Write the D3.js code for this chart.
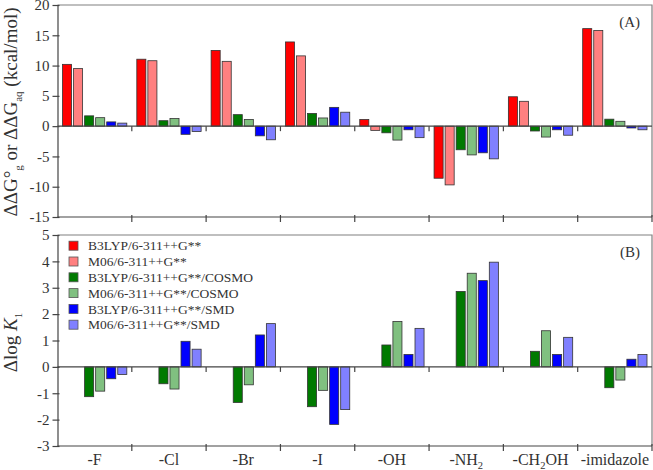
<!DOCTYPE html>
<html>
<head>
<meta charset="utf-8">
<script src="https://cdn.jsdelivr.net/npm/d3@7"></script>
<style>
  body { margin: 0; background: #fff; }
  svg { font-family: "Liberation Serif", "Times New Roman", serif; }
  .axis text { fill: #333; }
</style>
</head>
<body>
<svg id="chart"></svg>
<script>
"use strict";

// categories (substituents) and series
var categories = ["-F", "-Cl", "-Br", "-I", "-OH", "-NH2", "-CH2OH", "-imidazole"];
var seriesNames = [
  "B3LYP/6-311++G**",
  "M06/6-311++G**",
  "B3LYP/6-311++G**/COSMO",
  "M06/6-311++G**/COSMO",
  "B3LYP/6-311++G**/SMD",
  "M06/6-311++G**/SMD"
];
var seriesColors = ["#ff0000", "#ff8080", "#007a00", "#80c080", "#0000ff", "#8080ff"];

// panel (A): ddG (kcal/mol)
var dgB3lyp      = [10.2, 11.05, 12.5, 13.9, 1.1, -8.6, 4.85, 16.1];
var dgM06        = [9.5, 10.8, 10.7, 11.6, -0.7, -9.7, 4.1, 15.8];
var dgB3lypCosmo = [1.7, 0.9, 1.9, 2.1, -1.1, -3.9, -0.8, 1.15];
var dgM06Cosmo   = [1.4, 1.25, 1.1, 1.35, -2.3, -4.75, -1.8, 0.8];
var dgB3lypSmd   = [0.7, -1.35, -1.6, 3.1, -0.6, -4.4, -0.6, -0.3];
var dgM06Smd     = [0.5, -0.9, -2.25, 2.3, -1.9, -5.4, -1.5, -0.6];

// panel (B): dlog K1 (gas-phase series not shown)
var lkB3lypCosmo = [-1.13, -0.64, -1.35, -1.51, 0.83, 2.86, 0.59, -0.79];
var lkM06Cosmo   = [-0.92, -0.84, -0.68, -0.89, 1.72, 3.55, 1.37, -0.5];
var lkB3lypSmd   = [-0.45, 0.97, 1.21, -2.18, 0.47, 3.27, 0.47, 0.29];
var lkM06Smd     = [-0.29, 0.67, 1.64, -1.62, 1.46, 3.97, 1.12, 0.47];

var ticksA = [-15, -10, -5, 0, 5, 10, 15, 20];
var ticksB = [-3, -2, -1, 0, 1, 2, 3, 4, 5];

var width = 653, height = 470;
var left = 57.5, right = 652;

var svg = d3.select("#chart").attr("width", width).attr("height", height);

var x0 = d3.scaleBand().domain(categories).range([left, right]).padding(0);
var x1 = d3.scaleBand().domain(seriesNames).range([5, x0.bandwidth() - 5]).paddingInner(0.18);

function panel(opts) {
  var y = d3.scaleLinear().domain(opts.domain).range([opts.bottom, opts.top]);
  var g = svg.append("g");

  // frame (top + right)
  g.append("path")
    .attr("d", `M${left},${opts.top}H${right}V${opts.bottom}`)
    .attr("fill", "none").attr("stroke", "#808080").attr("stroke-width", 1.2);

  // bars
  var rows = [];
  opts.series.forEach(function (vals, si) {
    if (!vals) return;
    vals.forEach(function (v, ci) {
      rows.push({ s: seriesNames[si], c: categories[ci], v: v, color: seriesColors[si] });
    });
  });
  g.selectAll("rect.bar")
    .data(rows)
    .enter()
    .append("rect")
    .attr("class", "bar")
    .attr("x", (d) => x0(d.c) + x1(d.s))
    .attr("width", x1.bandwidth())
    .attr("y", (d) => y(Math.max(0, d.v)))
    .attr("height", (d) => Math.abs(y(d.v) - y(0)))
    .attr("fill", (d) => d.color)
    .attr("stroke", "#333")
    .attr("stroke-width", 0.8);

  // zero line with boundary ticks
  g.append("line")
    .attr("x1", left).attr("x2", right)
    .attr("y1", y(0)).attr("y2", y(0))
    .attr("stroke", "#444").attr("stroke-width", 1.2);
  g.selectAll("line.zt")
    .data(categories.slice(1))
    .enter()
    .append("line")
    .attr("class", "zt")
    .attr("x1", (d) => x0(d)).attr("x2", (d) => x0(d))
    .attr("y1", y(0)).attr("y2", y(0) + 5)
    .attr("stroke", "#444").attr("stroke-width", 1.2);

  // y axis (plain hyphen for negatives)
  var yAxis = g.append("g")
    .attr("class", "axis")
    .attr("transform", `translate(${left},0)`)
    .call(d3.axisLeft(y).tickValues(opts.ticks).tickFormat((d) => String(d))
      .tickSize(5).tickSizeOuter(0).tickPadding(3));
  yAxis.select(".domain").attr("stroke", "#444").attr("stroke-width", 1.2);
  yAxis.selectAll(".tick line").attr("x1", 2).attr("stroke", "#444").attr("stroke-width", 1.2);
  yAxis.selectAll(".tick text").attr("font-size", 15).attr("font-family", "Liberation Serif");

  // bottom line with boundary ticks
  g.append("line")
    .attr("x1", left).attr("x2", right)
    .attr("y1", opts.bottom).attr("y2", opts.bottom)
    .attr("stroke", "#444").attr("stroke-width", 1.2);
  g.selectAll("line.bt")
    .data(categories.slice(1).map((c) => x0(c)).concat([right]))
    .enter()
    .append("line")
    .attr("class", "bt")
    .attr("x1", (d) => d).attr("x2", (d) => d)
    .attr("y1", opts.bottom - 2).attr("y2", opts.bottom + 5)
    .attr("stroke", "#444").attr("stroke-width", 1.2);

  // panel letter
  g.append("text")
    .attr("x", 640).attr("y", opts.top + 22)
    .attr("text-anchor", "end")
    .attr("font-size", 15)
    .attr("fill", "#333")
    .text(opts.letter);

  return { g: g, y: y };
}

panel({
  domain: [-15, 20], top: 5, bottom: 217, ticks: ticksA, letter: "(A)",
  series: [dgB3lyp, dgM06, dgB3lypCosmo, dgM06Cosmo, dgB3lypSmd, dgM06Smd]
});
panel({
  domain: [-3, 5], top: 235, bottom: 446, ticks: ticksB, letter: "(B)",
  series: [null, null, lkB3lypCosmo, lkM06Cosmo, lkB3lypSmd, lkM06Smd]
});

// category labels with subscript digits
function subText(sel, s) {
  var shift = 0;
  s.split(/(\d+)/).forEach(function (part, i) {
    if (!part) return;
    var t = sel.append("tspan").text(part);
    if (i % 2 === 1) {
      t.attr("font-size", 10.5).attr("dy", 4);
      shift = 4;
    } else if (shift) {
      t.attr("dy", -shift);
      shift = 0;
    }
  });
}
svg.append("g")
  .selectAll("text")
  .data(categories)
  .enter()
  .append("text")
  .attr("x", (d) => x0(d) + x0.bandwidth() / 2)
  .attr("y", 465)
  .attr("text-anchor", "middle")
  .attr("font-size", 16)
  .attr("fill", "#333")
  .each(function (d) { subText(d3.select(this), d); });

// y axis titles
var tA = svg.append("text")
  .attr("transform", `translate(17,${(5 + 217) / 2 + 1}) rotate(-90)`)
  .attr("text-anchor", "middle")
  .attr("font-size", 19)
  .attr("fill", "#333");
tA.append("tspan").text("\u0394\u0394G\u00b0");
tA.append("tspan").attr("font-size", 11).attr("dy", 5).text("g");
tA.append("tspan").attr("dy", -5).text(" or \u0394\u0394G");
tA.append("tspan").attr("font-size", 11).attr("dy", 5).text("aq");
tA.append("tspan").attr("dy", -5).text(" (kcal/mol)");

var tB = svg.append("text")
  .attr("transform", `translate(17,${(235 + 446) / 2 + 2}) rotate(-90)`)
  .attr("text-anchor", "middle")
  .attr("font-size", 19)
  .attr("fill", "#333");
tB.append("tspan").text("\u0394log ");
tB.append("tspan").attr("font-style", "italic").text("K");
tB.append("tspan").attr("font-size", 11).attr("dy", 5).text("1");

// legend
var legend = svg.append("g")
  .selectAll("g")
  .data(seriesNames)
  .enter()
  .append("g")
  .attr("transform", (d, i) => `translate(69,${245.7 + i * 15.8})`);
legend.append("rect")
  .attr("x", 0).attr("y", -4.5)
  .attr("width", 9).attr("height", 9)
  .attr("fill", (d, i) => seriesColors[i])
  .attr("stroke", "#555").attr("stroke-width", 0.8);
legend.append("text")
  .attr("x", 19).attr("y", 0)
  .attr("dy", "0.35em")
  .attr("font-size", 13.5)
  .attr("fill", "#333")
  .text((d) => d);
</script>
</body>
</html>
